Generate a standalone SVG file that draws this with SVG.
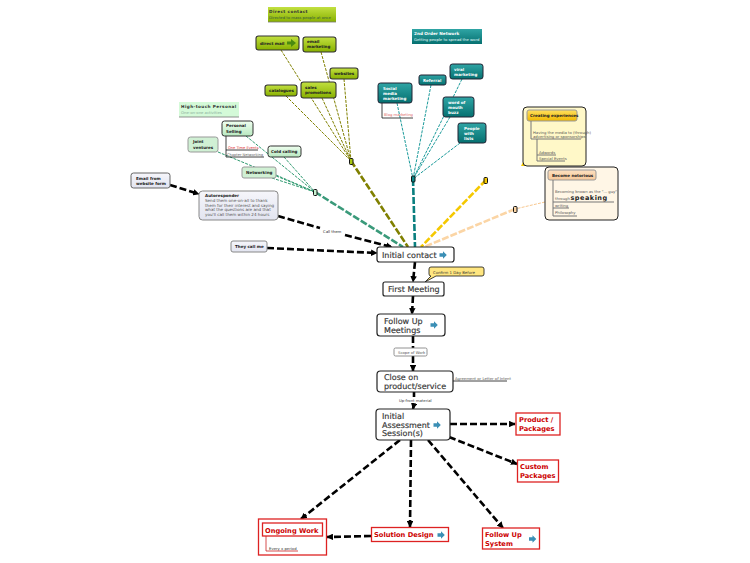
<svg xmlns="http://www.w3.org/2000/svg" width="750" height="563" viewBox="0 0 750 563">
<style>
text{font-family:"DejaVu Sans","Liberation Sans",sans-serif;fill:#222;text-rendering:geometricPrecision}
.m{font-size:8px;fill:#333;stroke:#333;stroke-width:.15}
.r{font-size:6.700px;font-weight:bold;fill:#c00}
.s{font-size:4.050px;font-weight:bold;fill:#222}
.w{font-size:4.050px;font-weight:bold;fill:#fff}
.t{font-size:3.800px;fill:#555}
.h{font-size:4.200px;font-weight:bold;fill:#333;letter-spacing:.4px}
.n{fill:#fff;stroke:#222;stroke-width:1.2}
.rb{fill:#fff;stroke:#d22;stroke-width:1.3}
.ol{fill:url(#ol);stroke:#333;stroke-width:1.1}
.te{fill:url(#te);stroke:#223;stroke-width:1}
.gr{fill:url(#gr);stroke:#333;stroke-width:1}
.lg{fill:#d0f0d4;stroke:#999;stroke-width:1}
.gy{fill:url(#gy);stroke:#888;stroke-width:1}
.l{fill:none;stroke:#111;stroke-width:.8}
.lt{fill:none;stroke:#777;stroke-width:1}
.b{fill:none;stroke:#000;stroke-width:2.6;stroke-dasharray:7 3;marker-end:url(#a)}
.bn{fill:none;stroke:#000;stroke-width:2.6;stroke-dasharray:7 3}
.tk{fill:none;stroke-width:2.6;stroke-dasharray:7 2}
.tn{fill:none;stroke-width:1;stroke-dasharray:3 1.2}
.ic{fill:#3b8fb5}
.j{stroke:#111;stroke-width:1}
</style>
<defs>
<marker id="a" viewBox="0 0 6 6" refX="5.5" refY="3" markerWidth="2.500" markerHeight="2.500" orient="auto"><path d="M0 0L6 3L0 6z" fill="#000"/></marker>
<linearGradient id="ol" x1="0" y1="0" x2="0" y2="1"><stop offset="0" stop-color="#c2e040"/><stop offset="1" stop-color="#88b000"/></linearGradient>
<linearGradient id="te" x1="0" y1="0" x2="0" y2="1"><stop offset="0" stop-color="#2fa5a5"/><stop offset="1" stop-color="#067070"/></linearGradient>
<linearGradient id="gr" x1="0" y1="0" x2="0" y2="1"><stop offset="0" stop-color="#f0fff0"/><stop offset="1" stop-color="#b8e8c0"/></linearGradient>
<linearGradient id="gy" x1="0" y1="0" x2="0" y2="1"><stop offset="0" stop-color="#f6f6fb"/><stop offset="1" stop-color="#e2e4f0"/></linearGradient>
<linearGradient id="ye" x1="0" y1="0" x2="0" y2="1"><stop offset="0" stop-color="#ffe060"/><stop offset="1" stop-color="#f0b800"/></linearGradient>
<linearGradient id="or" x1="0" y1="0" x2="0" y2="1"><stop offset="0" stop-color="#fde0c0"/><stop offset="1" stop-color="#f8c898"/></linearGradient>
<polygon id="ar" points="-3.500,-1.800 0,-1.800 0,-3.800 3.800,0 0,3.800 0,1.800 -3.500,1.800" class="ic"/>
</defs>
<g id="connectors">
<path class="tn" stroke="#808000" d="M281 50L351 161M321 52L351 161M344 79L351 161M286 96L351 161M322 98L351 161"/>
<path class="tn" stroke="#1a9a9a" d="M397 103L413 179M431 85L413 179M462 79L413 179M450 117L413 179M460 143L413 179"/>
<path class="tn" stroke="#2f9a70" d="M246 136L315 192M218 152L315 192M284 157L315 192M276 175L315 192M272 178L315 192"/>
<path class="tn" stroke="#f8c890" d="M545 202L515 209"/>
<path class="tk" stroke="#808000" d="M351 161L408 247"/>
<path class="tk" stroke="#0a7f7f" d="M413 179L415 247"/>
<path class="tk" stroke="#3a9a7a" d="M315 192L403 247"/>
<path class="tk" stroke="#f5c800" d="M486 180L421 247"/>
<path class="tk" stroke="#fbd5a5" d="M515 209L424 247"/>
<path class="b" d="M170 185L199 194"/>
<path class="bn" d="M278 216L320 228"/>
<path class="b" d="M345 235L392 247"/>
<path class="b" d="M267 248L377 253"/>
<path class="b" d="M415 262L413 282"/>
<path class="b" d="M413 296L412 314"/>
<path class="bn" d="M413 336L413 348"/>
<path class="b" d="M413 356L413 371"/>
<path class="bn" d="M414 392L414 397"/>
<path class="b" d="M414 404L413 409"/>
<path class="b" d="M450 424L515 424"/>
<path class="b" d="M449 437L517 464"/>
<path class="b" d="M400 440L301 519"/>
<path class="b" d="M411 440L410 527"/>
<path class="b" d="M428 440L503 528"/>
<path class="b" d="M371 536L327 537"/>
<path class="l" d="M226 136V157H264M226 150H258"/>
<path class="l" d="M382 103V118H413"/>
<path class="l" d="M453 381H507"/>
<rect class="j" x="349.500" y="158.500" width="3.500" height="6" rx="1" fill="#a8c810"/>
<rect class="j" x="411.500" y="176" width="3.500" height="6" rx="1" fill="#0a8a8a"/>
<rect class="j" x="313.500" y="189.500" width="3.500" height="6" rx="1" fill="#c8f0d0"/>
<rect class="j" x="484" y="177.500" width="3.500" height="6" rx="1" fill="#f5c800"/>
<rect class="j" x="513.500" y="206.500" width="3.500" height="6" rx="1" fill="#fbd5a5"/>
</g>
<g id="direct-contact"><rect x="268" y="7" width="68" height="15" fill="url(#ol)"/><path d="M268 22H336" stroke="#777" stroke-width=".8"/><text class="h" x="269" y="12.500">Direct contact</text><text class="t" x="269" y="19" style="fill:#354">Directed to mass people at once</text></g>
<g id="direct-mail"><rect class="ol" x="256" y="36" width="43" height="14" rx="2.500"/><text class="s" x="260" y="44.500">direct mail</text><polygon points="287,41.500 291,41.500 291,39 296,43 291,47 291,44.500 287,44.500" fill="#4a8a10"/></g>
<g id="email-marketing"><rect class="ol" x="303" y="37" width="33" height="15" rx="2.500"/><text class="s" x="307" y="43">email</text><text class="s" x="307" y="48">marketing</text></g>
<g id="websites"><rect class="ol" x="330" y="68" width="28" height="11" rx="2.500"/><text class="s" x="334" y="75">websites</text></g>
<g id="catalogues"><rect class="ol" x="265" y="85" width="32" height="11" rx="2.500"/><text class="s" x="269" y="92">catalogues</text></g>
<g id="sales-promotions"><rect class="ol" x="301" y="82" width="35" height="16" rx="2.500"/><text class="s" x="305" y="89">sales</text><text class="s" x="305" y="94">promotions</text></g>
<g id="high-touch"><rect x="179" y="102" width="60" height="15" fill="#d4fad8"/><path d="M179 117H239" stroke="#777" stroke-width=".8"/><text class="h" x="181" y="107.500">High-touch Personal</text><text class="t" x="181" y="113.500" style="fill:#8a9">One-on-one activities</text></g>
<g id="personal-selling"><rect class="gr" x="222" y="121" width="31" height="15" rx="2.500"/><text class="s" x="226" y="127">Personal</text><text class="s" x="226" y="132.500">Selling</text></g>
<g id="joint-ventures"><rect class="lg" x="188" y="137" width="30" height="15" rx="2.500"/><text class="s" x="193" y="143">Joint</text><text class="s" x="193" y="148.500">ventures</text></g>
<g id="cold-calling"><rect class="gr" x="268" y="146" width="33" height="11" rx="2.500"/><text class="s" x="271" y="153">Cold calling</text></g>
<g id="networking"><rect class="lg" x="242" y="167" width="34" height="11" rx="2"/><text class="s" x="246" y="174">Networking</text></g>
<text id="one-time" x="228" y="149" style="font-size:3.600px;fill:#d33">One Time Events</text>
<text id="chapter" x="227" y="155.500" style="font-size:3.600px;fill:#666">Chapter Networking</text>
<g id="email-form"><rect class="gy" x="131" y="173" width="39" height="15" rx="2.500" style="stroke:#666"/><text class="s" x="136" y="179.500">Email from</text><text class="s" x="136" y="185">website form</text></g>
<g id="autoresponder"><rect class="gy" x="199" y="191" width="79" height="29" rx="3.500"/><text class="s" x="205" y="197">Autoresponder</text><g style="font-size:4.100px"><text x="205" y="202" style="fill:#555">Send them one-on-all to thank</text><text x="205" y="206.500" style="fill:#555">them for their interest and saying</text><text x="205" y="211" style="fill:#555">what the questions are and that</text><text x="205" y="215.500" style="fill:#555">you'll call them within 24 hours</text></g></g>
<text id="call-them" x="323" y="232.500" style="font-size:3.800px;fill:#222">Call them</text>
<g id="they-call"><rect class="gy" x="231" y="241" width="36" height="11" rx="2"/><text class="s" x="235" y="248">They call me</text></g>
<g id="second-order"><rect x="412" y="29" width="70" height="15" fill="url(#te)"/><text class="h" x="414" y="34.500" style="fill:#fff;letter-spacing:0">2nd Order Network</text><text class="t" x="414" y="40.500" style="fill:#e8ffff">Getting people to spread the word</text></g>
<g id="social-media"><rect class="te" x="378" y="83" width="34" height="20" rx="2.500"/><text class="w" x="383" y="90">Social</text><text class="w" x="383" y="95">media</text><text class="w" x="383" y="100">marketing</text></g>
<text id="blog" x="384" y="116" style="font-size:3.800px;fill:#d66">Blog marketing</text>
<g id="referral"><rect class="te" x="419" y="75" width="27" height="10" rx="2"/><text class="w" x="423" y="81.500">Referral</text></g>
<g id="viral"><rect class="te" x="450" y="64" width="33" height="15" rx="2.500"/><text class="w" x="454" y="70.500">viral</text><text class="w" x="454" y="75.500">marketing</text></g>
<g id="word-of-mouth"><rect class="te" x="443" y="97" width="31" height="20" rx="2.500"/><text class="w" x="448" y="103.500">word of</text><text class="w" x="448" y="108.500">mouth</text><text class="w" x="448" y="113.500">buzz</text></g>
<g id="people-lists"><rect class="te" x="458" y="123" width="28" height="20" rx="2.500"/><text class="w" x="464" y="129.500">People</text><text class="w" x="464" y="134.500">with</text><text class="w" x="464" y="139.500">lists</text></g>
<g id="creating-experiences"><path d="M523 162L521 166H526z" fill="#f5c800"/><rect x="523" y="107" width="63" height="59" rx="4" fill="#fff8c8" stroke="#222" stroke-width="1"/><rect x="527" y="110" width="50" height="11" rx="2" fill="url(#ye)" stroke="#999"/><text class="s" x="530" y="116.800">Creating experiences</text><path class="lt" d="M531 121V139H581M537 139V161H565M537 155H556"/><text class="t" x="533" y="133.500">Having the media to (through)</text><text class="t" x="533" y="137.500">advertising or sponsorships</text><text class="t" x="539" y="153.500">Adwords</text><text class="t" x="539" y="160">Special Events</text></g>
<g id="become-notorious"><rect x="545" y="167" width="73" height="53" rx="4" fill="#fff6e6" stroke="#222" stroke-width="1"/><rect x="548" y="170" width="48" height="10" rx="2" fill="url(#or)" stroke="#999"/><text class="s" x="552" y="176.500">Become notorious</text><path class="lt" d="M553 180V216H577M553 202H614M553 208H569"/><text class="t" x="555" y="193">Becoming known as the "... guy"</text><text class="t" x="555" y="200">through</text><text x="570.500" y="200" style="font-size:6.500px;font-weight:bold;letter-spacing:.5px">speaking</text><text class="t" x="555" y="207">writing</text><text class="t" x="555" y="214">Philosophy</text></g>
<g id="initial-contact"><rect class="n" x="377" y="247" width="77" height="15" rx="2.500"/><text class="m" x="382" y="257.500">Initial contact</text><use href="#ar" x="443" y="255"/></g>
<g id="confirm"><path d="M429 269a2 2 0 0 1 2-2h51a2 2 0 0 1 2 2v5a2 2 0 0 1-2 2h-46l-11 6 6-6h0a2 2 0 0 1-2-2z" fill="#ffe680" stroke="#111" stroke-width=".8"/><text x="433" y="273.500" style="font-size:3.900px;fill:#333">Confirm 1 Day Before</text></g>
<g id="first-meeting"><rect class="n" x="383" y="282" width="61" height="14" rx="2"/><text class="m" x="388" y="292">First Meeting</text></g>
<g id="follow-up-meetings"><rect class="n" x="377" y="314" width="68" height="22" rx="3"/><text class="m" x="384" y="324">Follow Up</text><text class="m" x="384" y="333">Meetings</text><use href="#ar" x="434" y="325"/></g>
<g id="scope"><rect x="394" y="348" width="33" height="8" rx="1.500" fill="#fff" stroke="#777" stroke-width=".8"/><text class="t" x="398" y="353.500">Scope of Work</text></g>
<g id="close"><rect class="n" x="377" y="371" width="76" height="21" rx="3.500"/><text class="m" x="384" y="380">Close on</text><text class="m" x="384" y="389">product/service</text></g>
<text id="agreement" x="455" y="379.500" style="font-size:3.800px;fill:#555">Agreement or Letter of Intent</text>
<text id="upfront" x="399" y="402" style="font-size:3.800px;fill:#333">Up-front material</text>
<g id="initial-assessment"><rect class="n" x="376" y="409" width="74" height="31" rx="3.500"/><text class="m" x="382" y="419">Initial</text><text class="m" x="382" y="427.500">Assessment</text><text class="m" x="382" y="436">Session(s)</text><use href="#ar" x="437" y="425"/></g>
<g id="product-packages"><rect class="rb" x="516" y="413" width="44" height="22"/><text class="r" x="519" y="422">Product /</text><text class="r" x="519" y="431">Packages</text></g>
<g id="custom-packages"><rect class="rb" x="517.500" y="460" width="41" height="22"/><text class="r" x="520" y="469">Custom</text><text class="r" x="520" y="478">Packages</text></g>
<g id="ongoing-work"><rect class="rb" x="258.500" y="519" width="68" height="36"/><rect class="rb" x="262.500" y="523" width="60" height="13"/><text class="r" x="265" y="532.500">Ongoing Work</text><path d="M266 536V551H298" fill="none" stroke="#c22" stroke-width=".8"/><text x="269" y="550" style="font-size:3.800px;fill:#333">Every x period</text></g>
<g id="solution-design"><rect class="rb" x="371.500" y="527.500" width="77" height="14"/><text class="r" x="374" y="537">Solution Design</text><use href="#ar" x="441" y="535"/></g>
<g id="follow-up-system"><rect class="rb" x="482.500" y="528" width="57" height="21"/><text class="r" x="485" y="536.500">Follow Up</text><text class="r" x="485" y="545.500">System</text><use href="#ar" x="532.500" y="539"/></g>
</svg>
